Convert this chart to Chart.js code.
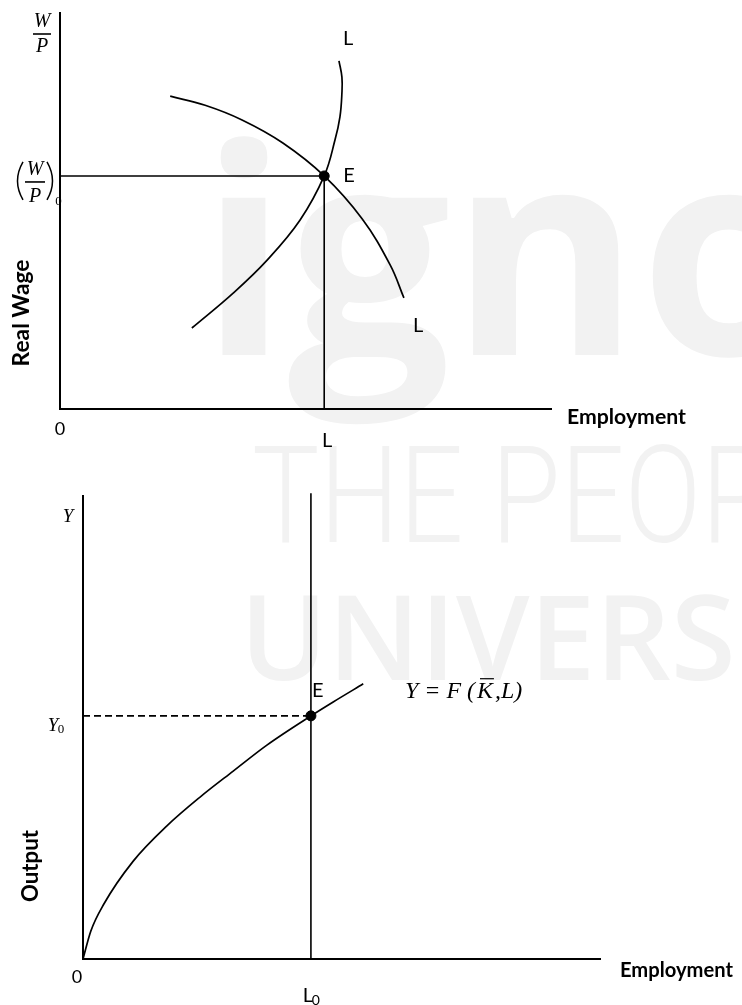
<!DOCTYPE html>
<html>
<head>
<meta charset="utf-8">
<script src="https://cdn.jsdelivr.net/npm/chart.js@4.4.0/dist/chart.umd.min.js"></script>
<style>
  html, body { margin: 0; padding: 0; background: #fff; }
  #wrap { position: relative; width: 742px; height: 1005px; overflow: hidden; }
  #wrap canvas { position: absolute; left: 0; top: 0; }
</style>
</head>
<body>
<div id="wrap">
  <canvas id="labour" width="742" height="1005"></canvas>
  <canvas id="output" width="742" height="1005"></canvas>
</div>
<script>
// ---- Labour market: employment (x) against real wage (y) ----
const demandL = [22.4, 29.5, 37.0, 45.3, 53.7, 61.4, 67.1, 69.9];
const demandW = [78.8, 76.5, 72.8, 67.0, 58.7, 47.9, 36.3, 28.0];
const supplyL = [26.8, 35.2, 42.1, 48.8, 53.7, 55.9, 56.9, 57.3, 57.3, 56.7];
const supplyW = [20.4, 29.2, 37.5, 47.6, 58.7, 67.8, 73.6, 79.6, 83.6, 87.7];
const eqEmployment = 53.7;
const eqRealWage = 58.7;

// ---- Production function: employment (x) against output (y) ----
const prodL = [0, 1.5, 4.0, 9.7, 16.2, 22.6, 29.0, 35.5, 44.0, 48.3, 54.1];
const prodY = [0, 6.0, 11.8, 21.1, 28.7, 34.9, 40.5, 46.1, 52.4, 55.4, 59.3];
const eqL0 = 44.0;
const eqY0 = 52.4;

const AXIS_MAX = 100;
const INK = '#000';
const SANS = 'Lato, "Open Sans", sans-serif';
const MATH = '"Liberation Serif", "DejaVu Serif", serif';

const pts = (xs, ys) => xs.map((x, i) => ({ x, y: ys[i] }));

function lineSet(data, width, extra) {
  return Object.assign({
    data, showLine: true, borderColor: INK, backgroundColor: INK,
    borderWidth: width, pointRadius: 0, fill: false, clip: false, tension: 0
  }, extra || {});
}

function baseOptions(padding) {
  return {
    responsive: false, animation: false, devicePixelRatio: 1, events: [],
    layout: { padding },
    plugins: { legend: { display: false }, tooltip: { enabled: false } },
    scales: {
      x: { type: 'linear', min: 0, max: AXIS_MAX, display: false },
      y: { type: 'linear', min: 0, max: AXIS_MAX, display: false }
    }
  };
}

// text helpers
function text(ctx, s, x, y, font, align) {
  ctx.font = font;
  ctx.textAlign = align || 'left';
  ctx.textBaseline = 'alphabetic';
  ctx.fillStyle = INK;
  ctx.fillText(s, x, y);
}
function fitText(ctx, s, x, y, width, style, family, align) {
  ctx.font = style + ' 20px ' + family;
  const size = 20 * width / ctx.measureText(s).width;
  text(ctx, s, x, y, style + ' ' + size.toFixed(2) + 'px ' + family, align);
}
function vText(ctx, s, cx, cy, width, style, family) {
  ctx.save();
  ctx.translate(cx, cy);
  ctx.rotate(-Math.PI / 2);
  ctx.font = style + ' 20px ' + family;
  const size = 20 * width / ctx.measureText(s).width;
  ctx.font = style + ' ' + size.toFixed(2) + 'px ' + family;
  ctx.textAlign = 'center';
  ctx.textBaseline = 'middle';
  ctx.fillStyle = INK;
  ctx.fillText(s, 0, 0);
  ctx.restore();
}
function stroke(ctx, width, build) {
  ctx.beginPath();
  build();
  ctx.lineWidth = width;
  ctx.strokeStyle = INK;
  ctx.stroke();
}
function fraction(ctx, cx, top, bar, bottom, size, halfBar) {
  const f = 'italic ' + size + 'px ' + MATH;
  text(ctx, 'W', cx, top, f, 'center');
  text(ctx, 'P', cx, bottom, f, 'center');
  stroke(ctx, 1.6, () => { ctx.moveTo(cx - halfBar, bar); ctx.lineTo(cx + halfBar, bar); });
}

// faint publisher mark in the background
const backdrop = {
  id: 'backdrop',
  beforeDraw(chart) {
    const ctx = chart.ctx;
    ctx.save();
    ctx.fillStyle = '#f2f2f2';
    ctx.textBaseline = 'alphabetic';
    ctx.textAlign = 'left';
    ctx.font = '700 288px "Open Sans", sans-serif';
    ctx.fillText('ignou', 200, 355);
    ctx.font = '600 118px "Open Sans", sans-serif';
    ctx.fillText('UNIVERSITY', 240, 680);
    // condensed light line
    ctx.save();
    ctx.scale(0.83, 1);
    ctx.font = '300 136px Roboto, sans-serif';
    ctx.fillText("THE PEOPLE'S", 252 / 0.83, 542);
    ctx.restore();
    ctx.restore();
  }
};

const labourLabels = {
  id: 'labourLabels',
  afterDraw(chart) {
    const ctx = chart.ctx;
    const sx = chart.scales.x, sy = chart.scales.y;
    const ex = sx.getPixelForValue(eqEmployment), ey = sy.getPixelForValue(eqRealWage);
    const reg = '20px ' + SANS;
    ctx.save();
    text(ctx, 'E', ex + 19, ey + 6, reg);
    text(ctx, 'L', 343, 45, reg);
    text(ctx, 'L', 413, 332, reg);
    text(ctx, 'L', ex + 3, 447, reg, 'center');
    text(ctx, '0', sx.getPixelForValue(0), 435, '18px ' + SANS, 'center');
    fitText(ctx, 'Employment', 567, 424, 119, 'bold', SANS);
    vText(ctx, 'Real Wage', 22, 313, 107, 'bold', SANS);
    // W/P over the vertical axis
    fraction(ctx, 42, 27, 34, 52, 20, 9);
    // (W/P)0 beside the equilibrium wage
    fraction(ctx, 35, ey - 1, ey + 6, ey + 26, 20, 10);
    stroke(ctx, 1.5, () => {
      ctx.moveTo(23, ey - 14); ctx.quadraticCurveTo(12, ey + 5, 23, ey + 24);
      ctx.moveTo(47, ey - 14); ctx.quadraticCurveTo(58, ey + 5, 47, ey + 24);
    });
    text(ctx, '0', 58.5, ey + 29, '13px ' + MATH, 'center');
    ctx.restore();
  }
};

const outputLabels = {
  id: 'outputLabels',
  afterDraw(chart) {
    const ctx = chart.ctx;
    const sx = chart.scales.x, sy = chart.scales.y;
    const ex = sx.getPixelForValue(eqL0), ey = sy.getPixelForValue(eqY0);
    const reg = '20px ' + SANS;
    ctx.save();
    text(ctx, 'E', ex + 1, ey - 19, reg);
    text(ctx, 'Y', 68, 522, 'italic 19px ' + MATH, 'center');
    text(ctx, 'Y', 53, ey + 15, 'italic 19px ' + MATH, 'center');
    text(ctx, '0', 61, ey + 17, '13px ' + MATH, 'center');
    // production function label, Y = F(K̄, L)
    const pieces = ['Y = F (', 'K', ',L)'];
    ctx.font = 'italic 20px ' + MATH;
    const total = pieces.reduce((s, p) => s + ctx.measureText(p).width, 0) + 4;
    const size = 20 * 118 / total;
    const f = 'italic ' + size.toFixed(2) + 'px ' + MATH;
    let x = 405;
    const y = ey - 18;
    ctx.font = f;
    text(ctx, pieces[0], x, y, f); x += ctx.measureText(pieces[0]).width + 2;
    text(ctx, pieces[1], x, y, f);
    const kw = ctx.measureText('K').width;
    stroke(ctx, 1.2, () => { ctx.moveTo(x + 3, y - size * 0.8); ctx.lineTo(x + kw + 1, y - size * 0.8); });
    x += kw + 2;
    text(ctx, pieces[2], x, y, f);
    vText(ctx, 'Output', 31, 866, 72, 'bold', SANS);
    text(ctx, '0', sx.getPixelForValue(0) - 6, 983, '18px ' + SANS, 'center');
    text(ctx, 'L', ex - 3, 1002, reg, 'center');
    text(ctx, '0', ex + 5, 1005, '14px ' + SANS, 'center');
    fitText(ctx, 'Employment', 620, 977, 113, 'bold', SANS);
    ctx.restore();
  }
};

new Chart(document.getElementById('labour'), {
  type: 'scatter',
  data: {
    datasets: [
      lineSet([{ x: 0, y: AXIS_MAX }, { x: 0, y: 0 }, { x: AXIS_MAX, y: 0 }], 2),
      lineSet([{ x: 0, y: eqRealWage }, { x: eqEmployment, y: eqRealWage }, { x: eqEmployment, y: 0 }], 1.6),
      lineSet(pts(demandL, demandW), 1.7, { tension: 0.4 }),
      lineSet(pts(supplyL, supplyW), 1.7, { tension: 0.4 }),
      { data: [{ x: eqEmployment, y: eqRealWage }], pointRadius: 5, backgroundColor: INK, borderColor: INK, clip: false }
    ]
  },
  options: baseOptions({ left: 60, right: 190, top: 12, bottom: 596 }),
  plugins: [backdrop, labourLabels]
});

new Chart(document.getElementById('output'), {
  type: 'scatter',
  data: {
    datasets: [
      lineSet([{ x: 0, y: AXIS_MAX }, { x: 0, y: 0 }, { x: AXIS_MAX, y: 0 }], 2),
      lineSet([{ x: eqL0, y: AXIS_MAX + 0.4 }, { x: eqL0, y: 0 }], 1.6),
      lineSet([{ x: 0, y: eqY0 }, { x: eqL0, y: eqY0 }], 1.6, { borderDash: [7, 4] }),
      lineSet(pts(prodL, prodY), 1.7, { cubicInterpolationMode: 'monotone' }),
      { data: [{ x: eqL0, y: eqY0 }], pointRadius: 5, backgroundColor: INK, borderColor: INK, clip: false }
    ]
  },
  options: baseOptions({ left: 83, right: 141, top: 495, bottom: 46 }),
  plugins: [outputLabels]
});
</script>
</body>
</html>
